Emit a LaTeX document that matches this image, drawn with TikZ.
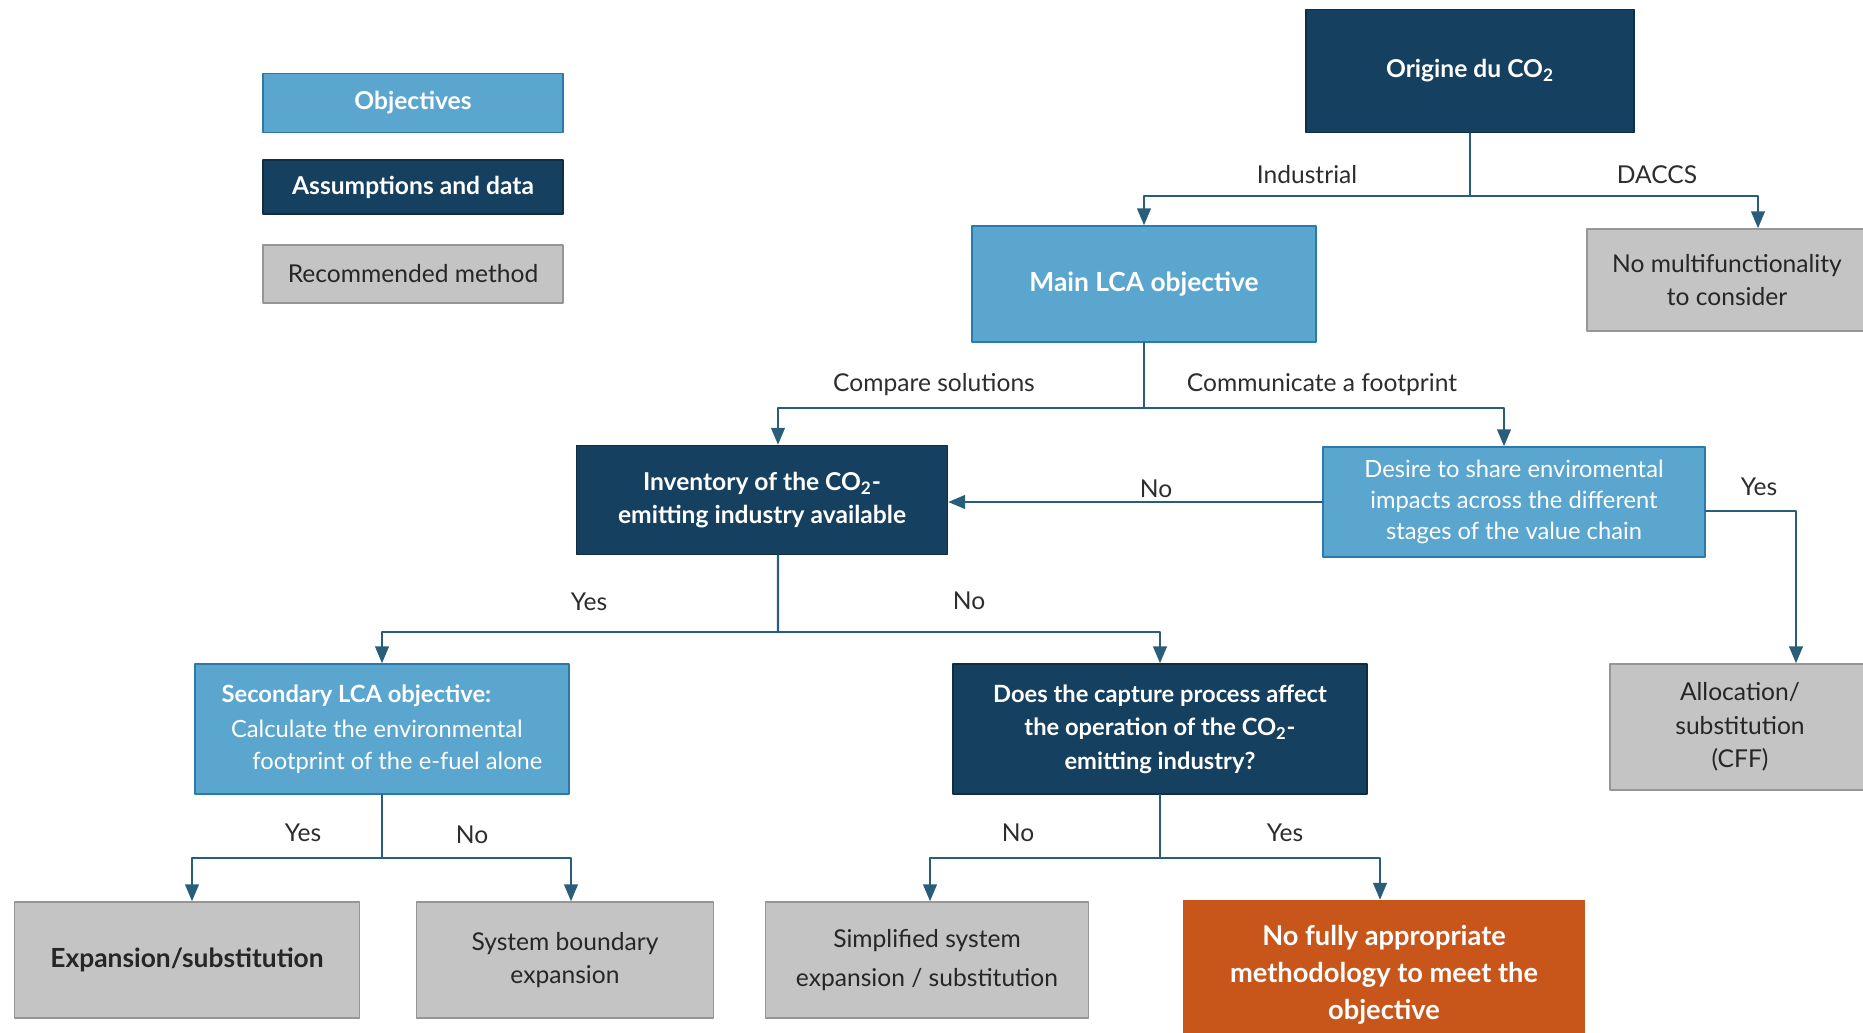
\documentclass[tikz,border=0pt]{standalone}
\usepackage{fontspec}
\setmainfont{Lato}
\usetikzlibrary{arrows}
\definecolor{objblue}{RGB}{90,166,207}
\definecolor{objedge}{RGB}{42,122,172}
\definecolor{navy}{RGB}{22,64,95}
\definecolor{methgrey}{RGB}{196,196,196}
\definecolor{greyedge}{RGB}{150,150,150}
\definecolor{alertorange}{RGB}{200,86,26}
\definecolor{linkcol}{RGB}{40,94,122}
\definecolor{labgrey}{RGB}{45,45,45}

\begin{document}
\begin{tikzpicture}[line cap=round,line join=round,>=triangle 45,x=0.02cm,y=-0.02cm,
	objbox/.style={draw=objedge,fill=objblue,line width=1pt,text=white,align=center,inner sep=0pt,font=\fontsize{14}{19}\selectfont\bfseries},
	datbox/.style={draw=navy!70!black,fill=navy,line width=1pt,text=white,align=center,inner sep=0pt,font=\fontsize{14}{19}\selectfont\bfseries},
	methbox/.style={draw=greyedge,fill=methgrey,line width=1pt,text=black!85,align=center,inner sep=0pt,font=\fontsize{14}{19}\selectfont},
	alertbox/.style={fill=alertorange,text=white,align=center,inner sep=0pt,font=\fontsize{15.5}{21}\selectfont\bfseries},
	conn/.style={draw=linkcol,line width=1.2pt},
	lab/.style={text=labgrey,font=\fontsize{14}{16}\selectfont}]
	\useasboundingbox (0,0) rectangle (1863,1033);
		% legend
		\node[objbox,minimum width=6cm,minimum height=1.18cm] (objleg) at (413,103) {Objectives};
		\node[datbox,minimum width=6cm,minimum height=1.08cm] (datleg) at (413,187) {Assumptions and data};
		\node[methbox,minimum width=6cm,minimum height=1.16cm] (methleg) at (413,274) {Recommended method};
		% boxes
		\node[datbox,minimum width=6.56cm,minimum height=2.46cm] (orig) at (1470,71) {Origine du CO\textsubscript{2}};
		\node[methbox,minimum width=5.6cm,minimum height=2.04cm] (nomulti) at (1727,280) {No multifunctionality\\to consider};
		\node[objbox,minimum width=6.88cm,minimum height=2.32cm,font=\fontsize{15}{19}\selectfont\bfseries] (mainlca) at (1144,284) {Main LCA objective};
		\node[datbox,minimum width=7.42cm,minimum height=2.18cm] (inv) at (762,500) {Inventory of the CO\textsubscript{2}-\\emitting industry available};
		\node[objbox,minimum width=7.64cm,minimum height=2.2cm,font=\fontsize{13.5}{17.5}\selectfont] (desire) at (1514,502) {Desire to share enviromental\\impacts across the different\\stages of the value chain};
		\node[methbox,minimum width=5.2cm,minimum height=2.52cm] (alloc) at (1740,727) {Allocation/\\substitution\\(CFF)};
		\node[objbox,minimum width=7.48cm,minimum height=2.6cm,align=left,font=\fontsize{13.5}{18}\selectfont] (second) at (382,729) {{\bfseries Secondary LCA objective:}\\[2pt]\hspace*{0.4em}Calculate the environmental\\\hspace*{1.3em}footprint of the e-fuel alone};
		\node[datbox,minimum width=8.28cm,minimum height=2.6cm,font=\fontsize{13.5}{19}\selectfont\bfseries] (does) at (1160,729) {Does the capture process affect\\the operation of the CO\textsubscript{2}-\\emitting industry?};
		\node[methbox,minimum width=6.9cm,minimum height=2.32cm,font=\fontsize{15}{19}\selectfont\bfseries] (expan) at (187,960) {Expansion/substitution};
		\node[methbox,minimum width=5.94cm,minimum height=2.32cm] (sysb) at (565,960) {System boundary\\expansion};
		\node[methbox,minimum width=6.46cm,minimum height=2.32cm] (simpl) at (927,960) {Simplified system\\[3pt]expansion / substitution};
		\node[alertbox,minimum width=8.04cm,minimum height=3cm] (nofully) at (1384,975) {No fully appropriate\\methodology to meet the\\objective};
		% junctions
		\coordinate (j1) at (1470,196);
		\coordinate (j2) at (1144,408);
		\coordinate (j3) at (778,632);
		\coordinate (j4) at (382,858);
		\coordinate (j5) at (1160,858);
		% connectors
		\draw[conn] (orig.south) -- (j1);
		\draw[conn,->] (j1) -| (mainlca.north);
		\draw[conn,->] (j1) -| ([xshift=0.62cm]nomulti.north);
		\draw[conn] (mainlca.south) -- (j2);
		\draw[conn,->] (j2) -| ([xshift=0.32cm]inv.north);
		\draw[conn,->] (j2) -| ([xshift=-0.2cm]desire.north);
		\draw[conn,->] (desire.west) -- (desire.west -| inv.east);
		\draw[conn,->] ([yshift=-0.18cm]desire.east) -| ([xshift=1.12cm]alloc.north);
		\draw[conn] ([xshift=0.32cm]inv.south) -- (j3);
		\draw[conn,->] (j3) -| (second.north);
		\draw[conn,->] (j3) -| (does.north);
		\draw[conn] (second.south) -- (j4);
		\draw[conn,->] (j4) -| ([xshift=0.1cm]expan.north);
		\draw[conn,->] (j4) -| ([xshift=0.12cm]sysb.north);
		\draw[conn] (does.south) -- (j5);
		\draw[conn,->] (j5) -| ([xshift=0.06cm]simpl.north);
		\draw[conn,->] (j5) -| ([xshift=-0.08cm]nofully.north);
		% labels
		\node[lab] (lind) at (1307,175) {Industrial};
		\node[lab] (ldac) at (1657,175) {DACCS};
		\node[lab] (lcmp) at (934,385) {Compare solutions};
		\node[lab] (lcom) at (1322,385) {Communicate a footprint};
		\node[lab] (lno1) at (1156,489) {No};
		\node[lab] (lyes1) at (1759,487) {Yes};
		\node[lab] (lyes2) at (589,602) {Yes};
		\node[lab] (lno2) at (969,601) {No};
		\node[lab] (lyes3) at (303,833) {Yes};
		\node[lab] (lno3) at (472,835) {No};
		\node[lab] (lno4) at (1018,833) {No};
		\node[lab] (lyes4) at (1285,833) {Yes};
\end{tikzpicture}
\end{document}
